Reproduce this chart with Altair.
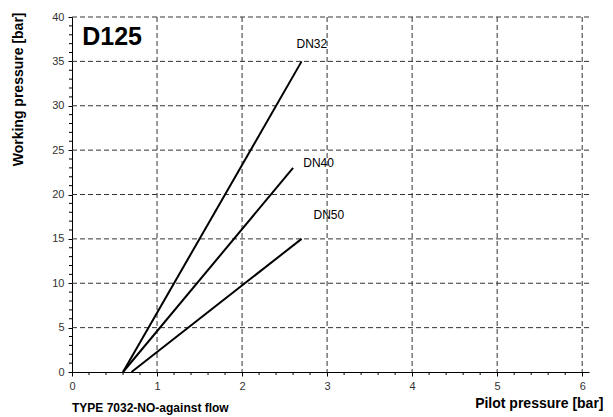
import altair as alt
import pandas as pd

# Data
series = ["DN32", "DN40", "DN50"]
x_start = [0.6, 0.6, 0.7]
y_start = [0, 0, 0]
x_end = [2.7, 2.6, 2.7]
y_end = [35, 23, 15]

label_x = [2.64, 2.72, 2.84]
label_y = [37.0, 23.5, 17.7]

x_major = [0, 1, 2, 3, 4, 5, 6]
y_major = [0, 5, 10, 15, 20, 25, 30, 35, 40]
x_minor = [round(i * 0.2, 1) for i in range(0, 31) if i % 5 != 0]
y_minor = [i for i in range(0, 41) if i % 5 != 0]

rows = []
for s, x0, y0, x1, y1 in zip(series, x_start, y_start, x_end, y_end):
    rows.append({"series": s, "x": x0, "y": y0, "o": 0})
    rows.append({"series": s, "x": x1, "y": y1, "o": 1})
lines_df = pd.DataFrame(rows)
labels_df = pd.DataFrame({"series": series, "x": label_x, "y": label_y})
title_df = pd.DataFrame({"text": ["D125"], "x": [0.12], "y": [37.8]})
note_df = pd.DataFrame({"text": ["TYPE 7032-NO-against flow"]})
xgrid_df = pd.DataFrame({"x": x_major[1:]})
ygrid_df = pd.DataFrame({"y": y_major[1:]})
xminor_df = pd.DataFrame({"x": x_minor})
yminor_df = pd.DataFrame({"y": y_minor})

FONT = "Liberation Sans"
GRID = "#333333"

xscale = alt.Scale(domain=[0, 6.08], nice=False, zero=False)
yscale = alt.Scale(domain=[0, 40], nice=False)

xaxis = alt.Axis(
    values=x_major,
    format="d",
    grid=False,
    tickSize=4,
    domainColor="#000000",
    tickColor="#000000",
    labelColor="#333333",
    labelFont=FONT,
    labelFontSize=11,
    labelPadding=4,
    labelFlush=False,
    labelOverlap=False,
    title="Pilot pressure [bar]",
    titleFont=FONT,
    titleFontSize=14,
    titleFontWeight="bold",
    titleColor="#000000",
    titleAlign="right",
    titleBaseline="middle",
    titleAnchor="end",
    titleX=531,
    titleY=31,
)

yaxis = alt.Axis(
    values=y_major,
    format="d",
    grid=False,
    tickSize=4,
    domainColor="#000000",
    tickColor="#000000",
    labelColor="#333333",
    labelFont=FONT,
    labelFontSize=11,
    labelPadding=4,
    labelFlush=False,
    labelOverlap=False,
    title="Working pressure [bar]",
    titleFont=FONT,
    titleFontSize=14,
    titleFontWeight="bold",
    titleColor="#000000",
    titleAngle=-90,
    titleAlign="right",
    titleBaseline="middle",
    titleX=-54,
    titleY=-5,
)

X = lambda: alt.X("x:Q", scale=xscale, axis=xaxis)
Y = lambda: alt.Y("y:Q", scale=yscale, axis=yaxis)

xgrid = alt.Chart(xgrid_df).mark_rule(color=GRID, strokeWidth=1, strokeDash=[5, 3]).encode(
    x=X(), y=alt.value(0), y2=alt.value(355)
)
ygrid = alt.Chart(ygrid_df).mark_rule(color=GRID, strokeWidth=1, strokeDash=[5, 3]).encode(
    y=Y(), x=alt.value(0), x2=alt.value(517)
)
xminor = alt.Chart(xminor_df).mark_rule(color="#000000", strokeWidth=1).encode(
    x=X(), y=alt.value(355), y2=alt.value(358)
)
yminor = alt.Chart(yminor_df).mark_rule(color="#000000", strokeWidth=1).encode(
    y=Y(), x=alt.value(-3), x2=alt.value(0)
)

lines = alt.Chart(lines_df).mark_line(color="#000000", strokeWidth=2).encode(
    x=X(), y=Y(), detail="series:N", order="o:Q",
)

labels = alt.Chart(labels_df).mark_text(
    align="left", baseline="middle", font=FONT, fontSize=12, color="#000000"
).encode(x=X(), y=Y(), text="series:N")

title = alt.Chart(title_df).mark_text(
    align="left", baseline="middle", font=FONT, fontSize=25, fontWeight="bold", color="#000000"
).encode(x=X(), y=Y(), text="text:N")

note = alt.Chart(note_df).mark_text(
    align="left", baseline="middle", font=FONT, fontSize=12, fontWeight="bold", color="#000000"
).encode(x=alt.value(0), y=alt.value(391), text="text:N")

chart = alt.layer(xgrid, ygrid, xminor, yminor, lines, labels, title, note).properties(
    width=517,
    height=355,
    autosize=alt.AutoSizeParams(type="none"),
    padding={"left": 64, "top": 9, "right": 16, "bottom": 44},
).configure_view(stroke=None)

chart.save("out.html", embed_options={"renderer": "svg", "actions": False})
